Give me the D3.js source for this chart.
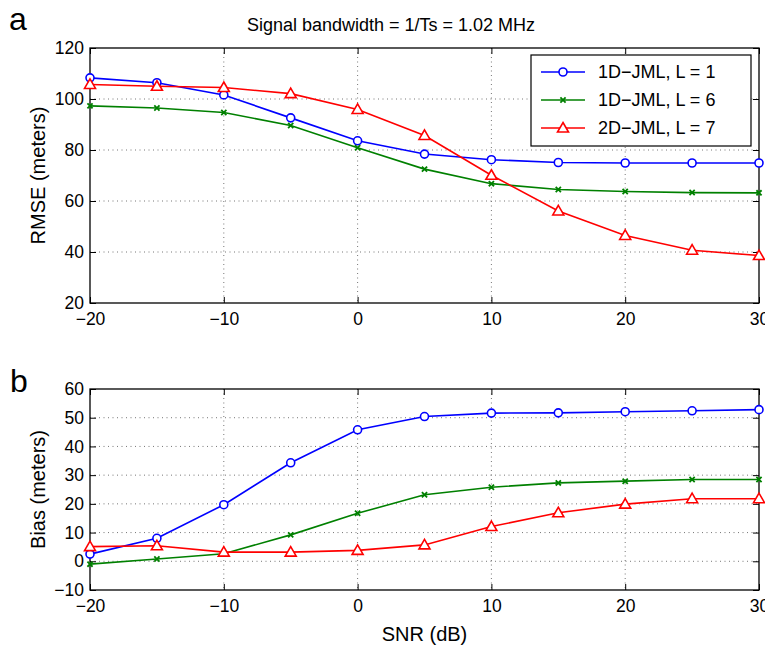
<!DOCTYPE html>
<html>
<head>
<meta charset="utf-8">
<script src="https://d3js.org/d3.v7.min.js"></script>
<style>
  body { margin: 0; background: #fff; }
  svg { font-family: "Liberation Sans", Arial, sans-serif; }
  .tick text { font-size: 17.5px; fill: #000; }
</style>
</head>
<body>
<svg id="chart" width="765" height="647"></svg>
<script>
// SNR values (dB)
var snr = [-20, -15, -10, -5, 0, 5, 10, 15, 20, 25, 30];

// panel a: RMSE (meters)
var rmse1D1 = [108.3, 106.4, 101.6, 92.6, 83.6, 78.4, 76.2, 75.1, 74.9, 74.9, 74.9];
var rmse1D6 = [97.3, 96.5, 94.7, 89.6, 80.9, 72.5, 66.8, 64.5, 63.7, 63.3, 63.2];
var rmse2D7 = [105.7, 105.0, 104.5, 102.1, 95.9, 85.7, 70.1, 56.1, 46.5, 40.7, 38.6];

// panel b: Bias (meters)
var bias1D1 = [2.5, 8.0, 19.7, 34.3, 45.8, 50.4, 51.6, 51.7, 52.1, 52.4, 52.8];
var bias1D6 = [-1.0, 0.8, 2.6, 9.2, 16.7, 23.2, 25.8, 27.3, 27.9, 28.5, 28.5];
var bias2D7 = [5.1, 5.4, 3.2, 3.2, 3.8, 5.7, 12.1, 16.9, 19.9, 21.8, 21.8];

var seriesNames = ["1D\u2212JML, L = 1", "1D\u2212JML, L = 6", "2D\u2212JML, L = 7"];
var seriesColors = ["#0000ff", "#008000", "#ff0000"];
var seriesMarkers = ["circle", "times", "triangle"];

var xTicks = [-20, -10, 0, 10, 20, 30];
var rmseTicks = [20, 40, 60, 80, 100, 120];
var biasTicks = [-10, 0, 10, 20, 30, 40, 50, 60];

var svg = d3.select("#chart");

function drawMarker(g, type, color, px, py) {
    if (type == "circle") {
        g.append("circle").attr("cx", px).attr("cy", py).attr("r", 4)
            .attr("fill", "#fff").attr("stroke", color).attr("stroke-width", 1.6);
    } else if (type == "triangle") {
        g.append("path")
            .attr("d", "M" + px + "," + (py - 5.5) + "L" + (px + 5.5) + "," + (py + 4) + "L" + (px - 5.5) + "," + (py + 4) + "Z")
            .attr("fill", "#fff").attr("stroke", color).attr("stroke-width", 1.6);
    } else {
        var s = 2.6;
        g.append("path")
            .attr("d", "M" + (px - s) + "," + (py - s) + "L" + (px + s) + "," + (py + s) +
                       "M" + (px - s) + "," + (py + s) + "L" + (px + s) + "," + (py - s))
            .attr("stroke", color).attr("stroke-width", 1.8);
    }
}

function panel(box, yDomain, yTicks, data, ylabel) {
    var x = d3.scaleLinear([-20, 30], [box.left, box.right]);
    var y = d3.scaleLinear(yDomain, [box.bottom, box.top]);
    var g = svg.append("g");

    // dotted grid
    g.selectAll(".gx").data(xTicks.slice(1, -1)).join("line")
        .attr("x1", d => x(d)).attr("x2", d => x(d))
        .attr("y1", box.top).attr("y2", box.bottom)
        .attr("stroke", "#666").attr("stroke-width", 0.9).attr("stroke-dasharray", "1,3.5");
    g.selectAll(".gy").data(yTicks.slice(1, -1)).join("line")
        .attr("y1", d => y(d)).attr("y2", d => y(d))
        .attr("x1", box.left).attr("x2", box.right)
        .attr("stroke", "#666").attr("stroke-width", 0.9).attr("stroke-dasharray", "1,3.5");

    // axes with inward ticks
    g.append("g").attr("transform", "translate(0," + box.bottom + ")")
        .call(d3.axisBottom(x).tickValues(xTicks).tickSizeInner(-6).tickSizeOuter(0).tickPadding(10))
        .call(a => a.select(".domain").remove());
    g.append("g").attr("transform", "translate(" + box.left + ",0)")
        .call(d3.axisLeft(y).tickValues(yTicks).tickSizeInner(-6).tickSizeOuter(0).tickPadding(6))
        .call(a => a.select(".domain").remove());
    g.append("g").attr("transform", "translate(0," + box.top + ")")
        .call(d3.axisTop(x).tickValues(xTicks).tickSizeInner(-6).tickSizeOuter(0).tickFormat(""))
        .call(a => a.select(".domain").remove());
    g.append("g").attr("transform", "translate(" + box.right + ",0)")
        .call(d3.axisRight(y).tickValues(yTicks).tickSizeInner(-6).tickSizeOuter(0).tickFormat(""))
        .call(a => a.select(".domain").remove());
    g.selectAll(".tick line").attr("stroke", "#000").attr("stroke-width", 1);

    g.append("rect").attr("x", box.left).attr("y", box.top)
        .attr("width", box.right - box.left).attr("height", box.bottom - box.top)
        .attr("fill", "none").attr("stroke", "#000").attr("stroke-width", 1.3);

    var line = d3.line().x((d, i) => x(snr[i])).y(d => y(d));
    data.forEach(function (vals, k) {
        g.append("path").datum(vals).attr("d", line)
            .attr("fill", "none").attr("stroke", seriesColors[k]).attr("stroke-width", 1.6);
        vals.forEach(function (v, i) {
            drawMarker(g, seriesMarkers[k], seriesColors[k], x(snr[i]), y(v));
        });
    });

    svg.append("text")
        .attr("transform", "translate(" + (box.left - 45) + "," + ((box.top + box.bottom) / 2) + ") rotate(-90)")
        .attr("text-anchor", "middle").attr("font-size", 20).text(ylabel);
    return g;
}

var topBox = {left: 90, right: 759, top: 48, bottom: 303};
var botBox = {left: 90, right: 759, top: 389, bottom: 590};

panel(topBox, [20, 120], rmseTicks, [rmse1D1, rmse1D6, rmse2D7], "RMSE (meters)");
panel(botBox, [-10, 60], biasTicks, [bias1D1, bias1D6, bias2D7], "Bias (meters)");

// title and panel letters
svg.append("text").attr("x", 391).attr("y", 31).attr("text-anchor", "middle")
    .attr("font-size", 18).text("Signal bandwidth = 1/Ts = 1.02 MHz");
svg.append("text").attr("x", 9).attr("y", 30).attr("font-size", 32).text("a");
svg.append("text").attr("x", 10).attr("y", 392).attr("font-size", 32).text("b");
svg.append("text").attr("x", (botBox.left + botBox.right) / 2).attr("y", 641)
    .attr("text-anchor", "middle").attr("font-size", 20).text("SNR (dB)");

// legend
var lg = svg.append("g");
lg.append("rect").attr("x", 531).attr("y", 55).attr("width", 220).attr("height", 91)
    .attr("fill", "#fff").attr("stroke", "#000").attr("stroke-width", 1.2);
seriesNames.forEach(function (name, k) {
    var ly = 72 + k * 28;
    lg.append("line").attr("x1", 541).attr("x2", 585).attr("y1", ly).attr("y2", ly)
        .attr("stroke", seriesColors[k]).attr("stroke-width", 1.6);
    drawMarker(lg, seriesMarkers[k], seriesColors[k], 563, ly);
    lg.append("text").attr("x", 598).attr("y", ly + 6).attr("font-size", 18).text(name);
});
</script>
</body>
</html>
